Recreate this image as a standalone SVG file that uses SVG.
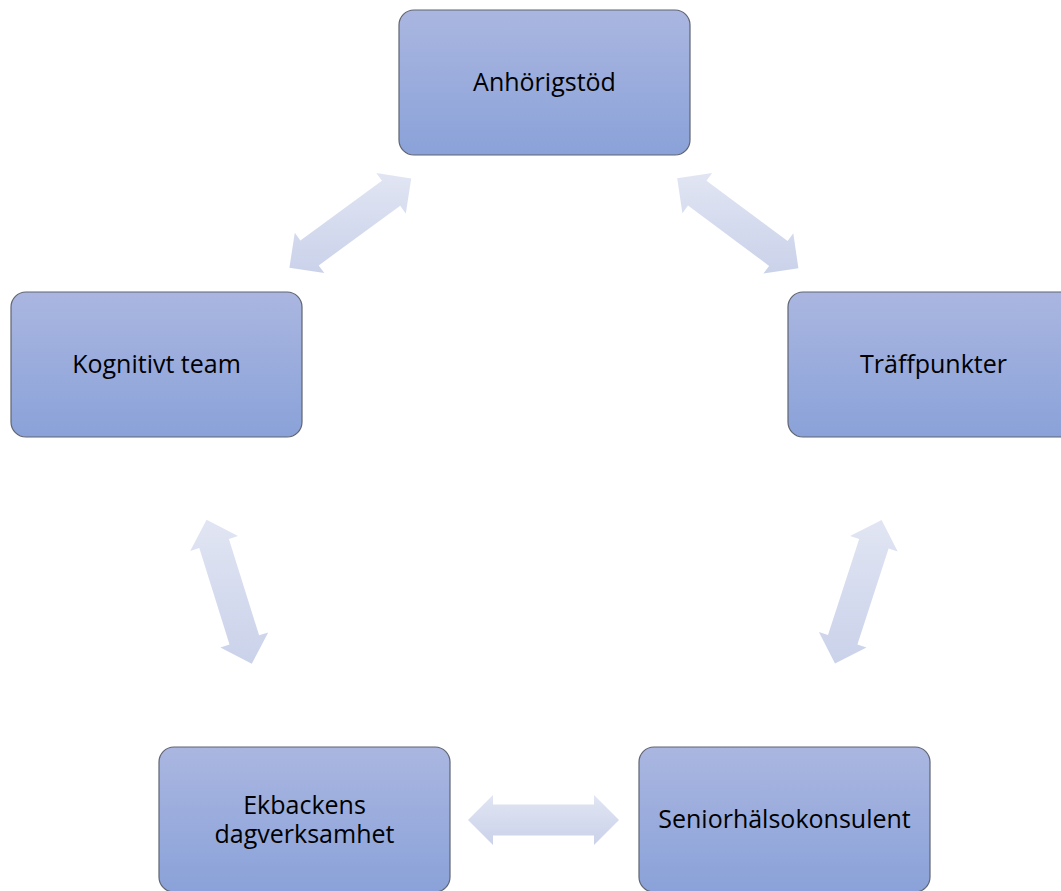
<svg xmlns="http://www.w3.org/2000/svg" width="1061" height="891" viewBox="0 0 1061 891">
<style>
.box{fill:url(#nodeGrad);stroke:#5f6470;stroke-width:1.2}
.lbl{font-family:"Open Sans","Liberation Sans",sans-serif;font-size:25px;fill:#000;text-anchor:middle}
.arr{fill:url(#arrGrad)}
</style>
<defs>
<linearGradient id="nodeGrad" x1="0" y1="0" x2="0" y2="1">
<stop offset="0" stop-color="#aab6e0"/>
<stop offset="1" stop-color="#8aa2d9"/>
</linearGradient>
<linearGradient id="arrGrad" x1="0" y1="0" x2="0" y2="1">
<stop offset="0" stop-color="#e1e5f3"/>
<stop offset="1" stop-color="#cad2ea"/>
</linearGradient>
</defs>
<rect width="1061" height="891" fill="#fff"/>
<g id="connectors">
<polygon class="arr" points="289.4,267.7 294.8,232.8 300.4,240.4 381.9,180.8 376.3,173.1 411.2,178.5 405.8,213.5 400.2,205.8 318.7,265.4 324.3,273.1"/>
<polygon class="arr" points="677.2,178.3 712.2,173.1 706.5,180.8 787.6,241.0 793.3,233.3 798.4,268.3 763.4,273.5 769.1,265.9 688.0,205.6 682.4,213.3"/>
<polygon class="arr" points="206.6,519.7 238.0,536.0 228.9,538.9 259.1,635.3 268.2,632.4 251.8,663.7 220.4,647.4 229.5,644.5 199.3,548.1 190.2,551.0"/>
<polygon class="arr" points="881.6,519.9 897.7,551.4 888.6,548.5 857.4,644.5 866.5,647.5 835.0,663.5 818.9,632.0 828.0,634.9 859.2,538.9 850.1,535.9"/>
<polygon class="arr" points="468,820 493,795 493,804.5 594,804.5 594,795 619,820 594,845 594,835.5 493,835.5 493,845"/>
</g>
<g id="node-anhorigstod">
<rect class="box" x="399" y="10" width="291" height="145" rx="15"/>
<text class="lbl" x="544.5" y="91">Anhörigstöd</text>
</g>
<g id="node-kognitivt">
<rect class="box" x="11" y="292" width="291" height="145" rx="15"/>
<text class="lbl" x="156.5" y="373">Kognitivt team</text>
</g>
<g id="node-traffpunkter">
<rect class="box" x="788" y="292" width="291" height="145" rx="15"/>
<text class="lbl" x="933.5" y="373">Träffpunkter</text>
</g>
<g id="node-ekbackens">
<rect class="box" x="159" y="747" width="291" height="145" rx="15"/>
<text class="lbl" x="304.5" y="814">Ekbackens</text>
<text class="lbl" x="304.5" y="843">dagverksamhet</text>
</g>
<g id="node-senior">
<rect class="box" x="639" y="747" width="291" height="145" rx="15"/>
<text class="lbl" x="784.5" y="828">Seniorhälsokonsulent</text>
</g>
</svg>
